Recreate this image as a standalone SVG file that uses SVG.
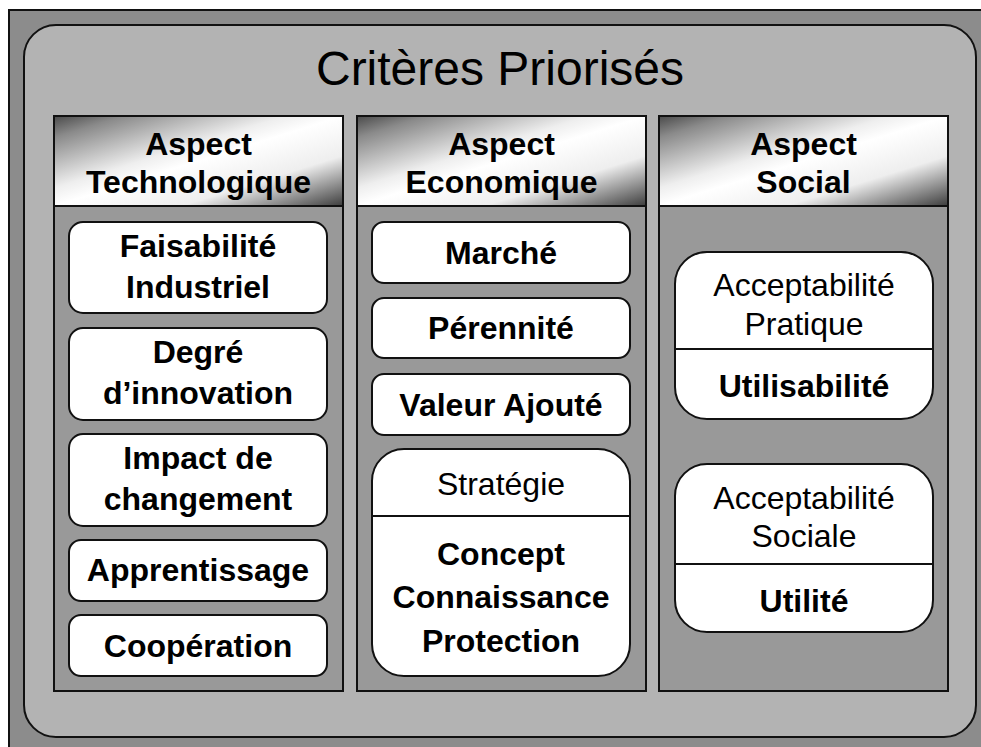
<svg xmlns="http://www.w3.org/2000/svg" width="981" height="747" viewBox="0 0 981 747">
<defs>
<linearGradient id="metal" x1="0" y1="0" x2="1" y2="1">
<stop offset="0" stop-color="#4a4a4a"/>
<stop offset="0.12" stop-color="#8a8a8a"/>
<stop offset="0.4" stop-color="#eeeeee"/>
<stop offset="0.5" stop-color="#ffffff"/>
<stop offset="0.72" stop-color="#eeeeee"/>
<stop offset="1" stop-color="#3c3c3c"/>
</linearGradient>
<style>
.frame{fill:#8c8c8c;stroke:#111;stroke-width:2}
.inner{fill:#b3b3b3;stroke:#111;stroke-width:2}
.col{fill:#999999;stroke:#111;stroke-width:2}
.head{fill:url(#metal);stroke:#111;stroke-width:2}
.box{fill:#ffffff;stroke:#111;stroke-width:2}
.div{stroke:#111;stroke-width:2}
text{font-family:"Liberation Sans",Arial,sans-serif;fill:#000;text-anchor:middle}
.t{font-size:48px}
.b{font-size:32px;font-weight:bold}
.r{font-size:32px}
</style>
</defs>
<g id="background">
<rect class="frame" x="9" y="10" width="990" height="760"/>
<rect class="inner" x="24" y="25" width="952" height="712" rx="32" ry="32"/>
<text class="t" x="500" y="85">Critères Priorisés</text>
</g>
<g id="col-tech">
<rect class="col" x="54" y="116" width="289" height="575"/>
<rect class="head" x="54" y="116" width="289" height="90"/>
<text class="b" x="198.5" y="155">Aspect</text>
<text class="b" x="198.5" y="193">Technologique</text>
</g>
<g id="col-eco">
<rect class="col" x="357" y="116" width="289" height="575"/>
<rect class="head" x="357" y="116" width="289" height="90"/>
<text class="b" x="501.5" y="155">Aspect</text>
<text class="b" x="501.5" y="193">Economique</text>
</g>
<g id="col-soc">
<rect class="col" x="659" y="116" width="289" height="575"/>
<rect class="head" x="659" y="116" width="289" height="90"/>
<text class="b" x="803.5" y="155">Aspect</text>
<text class="b" x="803.5" y="193">Social</text>
</g>
<g id="faisabilite">
<rect class="box" x="69" y="222" width="258" height="91" rx="14"/>
<text class="b" x="198" y="257">Faisabilité</text>
<text class="b" x="198" y="298">Industriel</text>
</g>
<g id="innovation">
<rect class="box" x="69" y="328" width="258" height="92" rx="14"/>
<text class="b" x="198" y="363">Degré</text>
<text class="b" x="198" y="404">d’innovation</text>
</g>
<g id="impact">
<rect class="box" x="69" y="434" width="258" height="92" rx="14"/>
<text class="b" x="198" y="469">Impact de</text>
<text class="b" x="198" y="510">changement</text>
</g>
<g id="apprentissage">
<rect class="box" x="69" y="540" width="258" height="61" rx="12"/>
<text class="b" x="198" y="581">Apprentissage</text>
</g>
<g id="cooperation">
<rect class="box" x="69" y="615" width="258" height="61" rx="12"/>
<text class="b" x="198" y="657">Coopération</text>
</g>
<g id="marche">
<rect class="box" x="372" y="222" width="258" height="61" rx="12"/>
<text class="b" x="501" y="264">Marché</text>
</g>
<g id="perennite">
<rect class="box" x="372" y="298" width="258" height="60" rx="12"/>
<text class="b" x="501" y="339">Pérennité</text>
</g>
<g id="valeur">
<rect class="box" x="372" y="374" width="258" height="61" rx="12"/>
<text class="b" x="501" y="416">Valeur Ajouté</text>
</g>
<g id="strategie">
<rect class="box" x="372" y="449" width="258" height="227" rx="32"/>
<line class="div" x1="372" y1="516" x2="630" y2="516"/>
<text class="r" x="501" y="495">Stratégie</text>
<text class="b" x="501" y="565">Concept</text>
<text class="b" x="501" y="608">Connaissance</text>
<text class="b" x="501" y="652">Protection</text>
</g>
<g id="pratique">
<rect class="box" x="675" y="252" width="258" height="167" rx="32"/>
<line class="div" x1="675" y1="349" x2="933" y2="349"/>
<text class="r" x="804" y="296">Acceptabilité</text>
<text class="r" x="804" y="335">Pratique</text>
<text class="b" x="804" y="397">Utilisabilité</text>
</g>
<g id="sociale">
<rect class="box" x="675" y="464" width="258" height="168" rx="32"/>
<line class="div" x1="675" y1="564" x2="933" y2="564"/>
<text class="r" x="804" y="509">Acceptabilité</text>
<text class="r" x="804" y="547">Sociale</text>
<text class="b" x="804" y="612">Utilité</text>
</g>
<g id="connectors"/>
</svg>
